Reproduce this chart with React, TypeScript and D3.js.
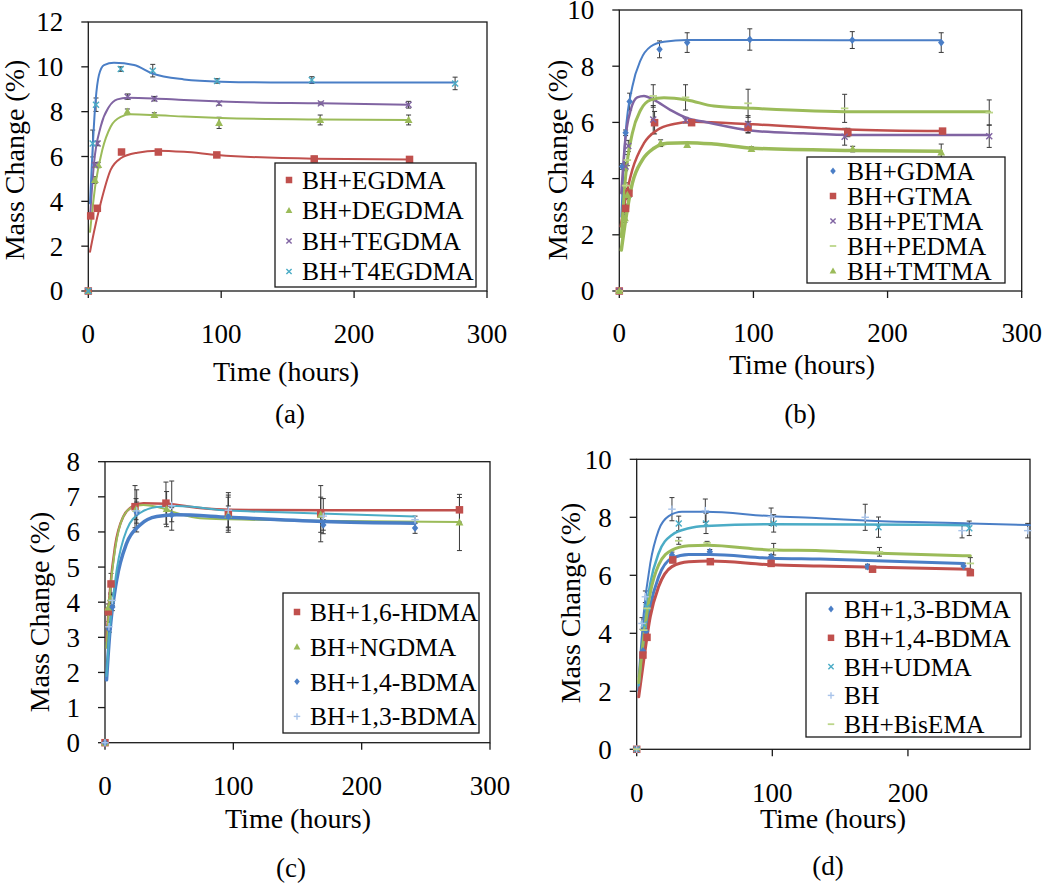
import React from "react";
import * as d3 from "d3";

// ---------- data (time in hours, mass change in %) ----------
// points: [time, value, error]; fit: [time, value]

// (a)
const aEgdmaPts = [[0, 0, 0], [1.8, 3.35, 0.1], [6.8, 3.69, 0.1], [25, 6.2, 0.08], [52.7, 6.2, 0.08], [96.7, 6.07, 0.1], [170, 5.89, 0.12], [241.7, 5.87, 0.12]];
const aEgdmaFit = [[1.3, 1.75], [4.3, 2.64], [9.3, 3.91], [16.8, 5.4], [24.4, 5.92], [36.9, 6.17], [52, 6.26], [72, 6.21], [97, 6.07], [170, 5.9], [241.7, 5.87]];
const aDegdmaPts = [[0, 0, 0], [5, 4.95, 0.15], [7.5, 5.62, 0.12], [29.4, 8.0, 0.12], [49.7, 7.85, 0.1], [98.4, 7.5, 0.25], [174.5, 7.63, 0.22], [241, 7.63, 0.22]];
const aDegdmaFit = [[1.3, 2.64], [5.5, 4.8], [10.5, 6.29], [16.8, 7.33], [24.4, 7.77], [31.9, 7.88], [49.5, 7.85], [72, 7.78], [100, 7.72], [175, 7.65], [241, 7.63]];
const aTegdmaPts = [[0, 0, 0], [5, 5.62, 0.1], [7, 6.58, 0.1], [29.6, 8.67, 0.12], [49.7, 8.58, 0.1], [98.4, 8.37, 0.08], [175, 8.37, 0.06], [241, 8.31, 0.15]];
const aTegdmaFit = [[1.3, 3.3], [4.3, 5.7], [9.3, 7.33], [15.6, 8.22], [21.8, 8.55], [29.4, 8.62], [49.5, 8.59], [72, 8.52], [100, 8.45], [175, 8.37], [241, 8.31]];
const aT4egdmaPts = [[0, 0, 0], [3.3, 6.58, 0.6], [5.8, 8.31, 0.3], [24.4, 9.9, 0.1], [48.5, 9.83, 0.28], [96.9, 9.37, 0.1], [168.2, 9.41, 0.15], [276, 9.26, 0.28]];
const aT4egdmaFit = [[1.3, 3.91], [5.5, 8.5], [8, 9.63], [11.8, 10.08], [19.3, 10.18], [34.4, 10.08], [48.2, 9.7], [72, 9.44], [100, 9.34], [150, 9.3], [276, 9.3]];

// (b)
const bGdmaPts = [[0, 0, 0], [2.2, 4.43, 0.1], [4.7, 5.63, 0.1], [7.7, 6.74, 0.3], [30, 8.6, 0.3], [50.6, 8.84, 0.35], [97.3, 8.95, 0.38], [173.7, 8.93, 0.3], [240, 8.84, 0.35]];
const bGdmaFit = [[1.5, 2.64], [4.7, 5.61], [9.7, 7.27], [15.9, 8.22], [23.4, 8.7], [33.3, 8.87], [50.6, 8.93], [100, 8.93], [240, 8.92]];
const bGtmaPts = [[0, 0, 0], [4.7, 2.94, 0.15], [7.2, 3.48, 0.15], [26.3, 5.99, 0.4], [53.9, 5.99, 0.1], [96, 5.82, 0.2], [170.4, 5.64, 0.15], [241, 5.69, 0.08]];
const bGtmaFit = [[1, 2.3], [3.5, 3.0], [9.7, 4.31], [18.4, 5.26], [28.3, 5.73], [40.7, 5.94], [55.6, 6.02], [99.7, 5.93], [170.4, 5.75], [241, 5.69]];
const bPetmaPts = [[0, 0, 0], [4.7, 4.43, 0.15], [6.7, 5.16, 0.2], [25.3, 6.1, 0.5], [49.4, 6.08, 0.1], [96, 5.94, 0.3], [168, 5.49, 0.3], [275.8, 5.51, 0.4]];
const bPetmaFit = [[1.5, 3.48], [4.7, 5.49], [8.5, 6.44], [13.4, 6.89], [18.4, 6.94], [25.8, 6.8], [38.2, 6.44], [50.6, 6.15], [62.5, 6.03], [99.7, 5.7], [137, 5.61], [174, 5.55], [276, 5.55]];
const bPedmaPts = [[0, 0, 0], [4.7, 3.75, 0.1], [6, 4.66, 0.2], [25.3, 6.94, 0.4], [49.4, 6.89, 0.45], [96, 6.68, 0.5], [168, 6.5, 0.5], [275.8, 6.35, 0.45]];
const bPedmaFit = [[1.5, 1.93], [4.7, 4.07], [9.7, 5.61], [15.9, 6.44], [23.4, 6.8], [33.3, 6.88], [50.6, 6.8], [70.5, 6.58], [99.7, 6.5], [174, 6.38], [276, 6.38]];
const bTmtmaPts = [[0, 0, 0], [4.2, 2.59, 0.15], [6, 3.42, 0.15], [30.8, 5.26, 0.12], [50.6, 5.2, 0.08], [98.5, 5.05, 0.08], [174, 5.05, 0.1], [240, 4.93, 0.3]];
const bTmtmaFit = [[1.5, 1.46], [4.7, 2.53], [9.7, 3.83], [17.1, 4.66], [25.8, 5.08], [35.7, 5.26], [50.6, 5.28], [70.5, 5.23], [99.7, 5.08], [174, 5.0], [240, 4.97]];

// (c)
const cHdmaPts = [[0, 0, 0], [2.6, 3.73, 0.1], [4.7, 4.52, 0.3], [23.4, 6.72, 0.6], [47.5, 6.82, 0.6], [96.1, 6.55, 0.5], [168.1, 6.52, 0.8], [276.2, 6.63, 0.35]];
const cHdmaFit = [[1.2, 2.9], [3.9, 4.35], [7.8, 5.58], [14.3, 6.44], [22, 6.74], [29.9, 6.82], [48, 6.8], [74, 6.68], [96, 6.63], [180, 6.62], [276, 6.62]];
const cNgdmaPts = [[0, 0, 0], [2.6, 3.85, 0.1], [4.4, 4.11, 0.15], [24.2, 6.65, 0.3], [48, 6.65, 0.5], [96, 6.49, 0.5], [168.1, 6.49, 0.5], [276.2, 6.27, 0.8]];
const cNgdmaFit = [[1.2, 2.7], [3.9, 4.26], [7.8, 5.49], [14.3, 6.44], [22, 6.72], [29.9, 6.77], [40.3, 6.72], [55.8, 6.54], [74, 6.39], [96, 6.36], [276, 6.28]];
const cBdma14Pts = [[0, 0, 0], [3.1, 3.24, 0.1], [5.7, 3.86, 0.1], [24.7, 6.55, 0.3], [52, 6.49, 0.2], [96.1, 6.44, 0.3], [170.1, 6.2, 0.15], [241.6, 6.11, 0.15]];
const cBdma14Fit = [[1.2, 1.79], [3.9, 3.21], [9.1, 4.63], [16.9, 5.68], [27.3, 6.2], [40.3, 6.44], [55.8, 6.49], [96, 6.42], [170, 6.3], [241.6, 6.25]];
const cBdma13Pts = [[0, 0, 0], [3.1, 3.3, 0.15], [5.7, 4.05, 0.15], [24.7, 6.6, 0.6], [52, 6.75, 0.7], [96.1, 6.62, 0.5], [170.1, 6.45, 0.5], [241.6, 6.35, 0.1]];
const cBdma13Fit = [[1.2, 1.9], [3.9, 3.3], [9.1, 4.92], [16.9, 6.06], [27.3, 6.54], [40.3, 6.71], [55.8, 6.74], [96, 6.61], [136, 6.56], [241.6, 6.44]];

// (d)
const dBdma13Pts = [[0, 0, 0], [4.6, 3.39, 0.1], [6.9, 4.06, 0.1], [26, 6.7, 0.1], [53.9, 6.81, 0.08], [99.1, 6.64, 0.08], [170.2, 6.3, 0.08], [241, 6.32, 0.1]];
const dBdma13Fit = [[1.5, 2.04], [5.2, 3.42], [10, 4.92], [16.2, 5.95], [26, 6.59], [38.4, 6.72], [53.9, 6.72], [99.1, 6.59], [135.3, 6.56], [241, 6.41]];
const dBdma14Pts = [[0, 0, 0], [4.6, 3.25, 0.1], [7.6, 3.86, 0.1], [26.6, 6.53, 0.1], [54.3, 6.47, 0.08], [99.1, 6.41, 0.08], [173.9, 6.21, 0.08], [246, 6.09, 0.08]];
const dBdma14Fit = [[1.5, 1.81], [5.2, 3.08], [10, 4.57], [16.2, 5.61], [26, 6.3], [38.4, 6.47], [54.3, 6.49], [99.1, 6.36], [135.3, 6.32], [246, 6.21]];
const dUdmaPts = [[0, 0, 0], [5.2, 4.3, 0.15], [7.6, 4.9, 0.15], [31, 7.79, 0.25], [51.1, 7.79, 0.35], [101, 7.79, 0.3], [178.3, 7.66, 0.35], [245.2, 7.62, 0.25]];
const dUdmaFit = [[1.5, 2.2], [5.2, 4.11], [10, 5.72], [16.2, 6.76], [26, 7.39], [38.4, 7.62], [51.1, 7.7], [101, 7.76], [245.2, 7.73]];
const dBhPts = [[0, 0, 0], [3.9, 4.34, 0.2], [6.4, 5.26, 0.2], [26, 8.28, 0.4], [50.6, 8.23, 0.4], [99.1, 8.02, 0.3], [168.5, 8.0, 0.45], [239.9, 7.54, 0.25], [288.3, 7.54, 0.25]];
const dBhFit = [[1.5, 2.5], [5.2, 4.69], [10, 6.41], [16.2, 7.56], [23.6, 8.04], [33.4, 8.19], [50.6, 8.19], [99.1, 8.04], [135.3, 7.97], [172.2, 7.88], [246, 7.79], [290, 7.73]];
const dBisemaPts = [[0, 0, 0], [5.2, 4.11, 0.15], [7.6, 4.86, 0.15], [31, 7.19, 0.12], [51.9, 7.12, 0.05], [101, 6.9, 0.2], [179, 6.81, 0.15], [246, 6.41, 0.2]];
const dBisemaFit = [[1.5, 2.3], [5.2, 3.88], [10, 5.38], [16.2, 6.36], [26, 6.87], [38.4, 7.02], [51.9, 7.04], [101, 6.87], [135.3, 6.85], [179, 6.76], [246, 6.67]];

// ---------- styles ----------
const BLUE = "#4a7ec6";
const RED = "#c0504d";
const GREEN = "#9bbb59";
const PURPLE = "#8064a2";
const AQUA = "#4bacc6";
const LIGHTBLUE = "#a9c4ea";
const LIGHTGREEN = "#bcd68a";
const FONT = '"Liberation Serif", "DejaVu Serif", "Times New Roman", Times, serif';

const mk = (label, pts, fit, marker, markerColor, lineColor, lineWidth) => ({ label, pts, fit, marker, markerColor, lineColor, lineWidth });

const panels = [
  {
    caption: "(a)", left: 88.3, right: 487, top: 22, bottom: 291,
    xMax: 300, xTicks: [0, 100, 200, 300], yMax: 12, yStep: 2,
    ytitle: [24, 160], xtitle: [286, 381], cap: [290, 423], xLabelY: 343,
    legend: { x: 275, y: 163, w: 201, h: 124, row0: 180, step: 30.5, mx: 289, tx: 302 },
    series: [
      mk("BH+EGDMA", aEgdmaPts, aEgdmaFit, "square", RED, RED, 2),
      mk("BH+DEGDMA", aDegdmaPts, aDegdmaFit, "triangle", GREEN, GREEN, 2),
      mk("BH+TEGDMA", aTegdmaPts, aTegdmaFit, "x", PURPLE, PURPLE, 2),
      mk("BH+T4EGDMA", aT4egdmaPts, aT4egdmaFit, "x", AQUA, BLUE, 2),
    ],
  },
  {
    caption: "(b)", left: 619.3, right: 1021.7, top: 10, bottom: 291,
    xMax: 300, xTicks: [0, 100, 200, 300], yMax: 10, yStep: 2,
    ytitle: [567, 160], xtitle: [802, 374], cap: [800, 423], xLabelY: 342,
    legend: { x: 807, y: 157, w: 198, h: 126, row0: 171, step: 25, mx: 833, tx: 847 },
    series: [
      mk("BH+GDMA", bGdmaPts, bGdmaFit, "diamond", BLUE, BLUE, 2),
      mk("BH+GTMA", bGtmaPts, bGtmaFit, "square", RED, RED, 2.5),
      mk("BH+PETMA", bPetmaPts, bPetmaFit, "x", PURPLE, PURPLE, 2.5),
      mk("BH+PEDMA", bPedmaPts, bPedmaFit, "dash", LIGHTGREEN, GREEN, 3),
      mk("BH+TMTMA", bTmtmaPts, bTmtmaFit, "triangle", GREEN, GREEN, 3.5),
    ],
  },
  {
    caption: "(c)", left: 105, right: 490, top: 461.7, bottom: 742.7,
    xMax: 300, xTicks: [0, 100, 200, 300], yMax: 8, yStep: 1,
    ytitle: [49, 612], xtitle: [298, 828], cap: [291, 877], xLabelY: 795,
    legend: { x: 283, y: 593, w: 196, h: 140, row0: 612, step: 34.8, mx: 297, tx: 310 },
    series: [
      mk("BH+1,6-HDMA", cHdmaPts, cHdmaFit, "square", RED, RED, 2.5),
      mk("BH+NGDMA", cNgdmaPts, cNgdmaFit, "triangle", GREEN, GREEN, 2),
      mk("BH+1,4-BDMA", cBdma14Pts, cBdma14Fit, "diamond", BLUE, BLUE, 3.5),
      mk("BH+1,3-BDMA", cBdma13Pts, cBdma13Fit, "plus", LIGHTBLUE, AQUA, 2),
    ],
  },
  {
    caption: "(d)", left: 636.7, right: 1030, top: 459.3, bottom: 749.3,
    xMax: 290, xTicks: [0, 100, 200], yMax: 10, yStep: 2,
    ytitle: [580, 603], xtitle: [833, 828], cap: [828, 875], xLabelY: 802,
    legend: { x: 806, y: 593, w: 215, h: 144, row0: 609, step: 28.8, mx: 831, tx: 844 },
    series: [
      mk("BH+1,3-BDMA", dBdma13Pts, dBdma13Fit, "diamond", BLUE, BLUE, 3),
      mk("BH+1,4-BDMA", dBdma14Pts, dBdma14Fit, "square", RED, RED, 3),
      mk("BH+UDMA", dUdmaPts, dUdmaFit, "x", AQUA, AQUA, 2.5),
      mk("BH", dBhPts, dBhFit, "plus", LIGHTBLUE, BLUE, 2),
      mk("BH+BisEMA", dBisemaPts, dBisemaFit, "dash", LIGHTGREEN, GREEN, 3),
    ],
  },
];

function Marker({ shape, x, y, color, s }) {
  const h = s / 2;
  if (shape === "square") return <rect x={x - h} y={y - h} width={s} height={s} fill={color} />;
  if (shape === "triangle")
    return <path d={`M${x},${y - h * 1.1}L${x + h * 1.05},${y + h * 0.8}L${x - h * 1.05},${y + h * 0.8}Z`} fill={color} />;
  if (shape === "diamond")
    return <path d={`M${x},${y - h * 1.05}L${x + h * 0.85},${y}L${x},${y + h * 1.05}L${x - h * 0.85},${y}Z`} fill={color} />;
  if (shape === "x")
    return (
      <g stroke={color} strokeWidth={1.4}>
        <line x1={x - h * 0.8} y1={y - h * 0.8} x2={x + h * 0.8} y2={y + h * 0.8} />
        <line x1={x - h * 0.8} y1={y + h * 0.8} x2={x + h * 0.8} y2={y - h * 0.8} />
      </g>
    );
  if (shape === "plus")
    return (
      <g stroke={color} strokeWidth={1.4}>
        <line x1={x - h} y1={y} x2={x + h} y2={y} />
        <line x1={x} y1={y - h} x2={x} y2={y + h} />
      </g>
    );
  return <line x1={x - h} y1={y} x2={x + h} y2={y} stroke={color} strokeWidth={1.8} />;
}

function Panel({ p }) {
  const x = d3.scaleLinear().domain([0, p.xMax]).range([p.left, p.right]);
  const y = d3.scaleLinear().domain([0, p.yMax]).range([p.bottom, p.top]);
  const yTicks = d3.range(0, p.yMax + 0.001, p.yStep);
  const line = d3
    .line()
    .x((d) => x(d[0]))
    .y((d) => y(d[1]))
    .curve(d3.curveMonotoneX);
  const lg = p.legend;

  return (
    <g>
      {/* frame */}
      <rect x={p.left} y={p.top} width={p.right - p.left} height={p.bottom - p.top} fill="none" stroke="#1a1a1a" strokeWidth={1.3} />
      {yTicks.map((t) => (
        <g key={"y" + t}>
          <line x1={p.left - 7} x2={p.left} y1={y(t)} y2={y(t)} stroke="#1a1a1a" strokeWidth={1.3} />
          <text x={p.left - 25} y={y(t)} dy="0.35em" textAnchor="end" fontSize={27}>
            {t}
          </text>
        </g>
      ))}
      {p.xTicks.map((t) => (
        <g key={"x" + t}>
          <line x1={x(t)} x2={x(t)} y1={p.bottom} y2={p.bottom + 7} stroke="#1a1a1a" strokeWidth={1.3} />
          <text x={x(t)} y={p.xLabelY} textAnchor="middle" fontSize={27}>
            {t}
          </text>
        </g>
      ))}

      {/* error bars */}
      {p.series.map((s, si) =>
        s.pts
          .filter((d) => d[2] > 0)
          .map((d, i) => (
            <g key={`e${si}-${i}`} stroke="#3a3a3a" strokeWidth={1}>
              <line x1={x(d[0])} x2={x(d[0])} y1={y(d[1] - d[2])} y2={y(d[1] + d[2])} />
              <line x1={x(d[0]) - 2.5} x2={x(d[0]) + 2.5} y1={y(d[1] - d[2])} y2={y(d[1] - d[2])} />
              <line x1={x(d[0]) - 2.5} x2={x(d[0]) + 2.5} y1={y(d[1] + d[2])} y2={y(d[1] + d[2])} />
            </g>
          ))
      )}

      {/* fitted curves */}
      {p.series.map((s, si) => (
        <path key={"l" + si} d={line(s.fit)} fill="none" stroke={s.lineColor} strokeWidth={s.lineWidth} strokeLinejoin="round" strokeLinecap="round" />
      ))}

      {/* measured points */}
      {p.series.map((s, si) =>
        s.pts.map((d, i) => <Marker key={`m${si}-${i}`} shape={s.marker} x={x(d[0])} y={y(d[1])} color={s.markerColor} s={7.5} />)
      )}

      {/* legend */}
      <rect x={lg.x} y={lg.y} width={lg.w} height={lg.h} fill="#fff" stroke="#1a1a1a" strokeWidth={1.3} />
      {p.series.map((s, i) => (
        <g key={"lg" + i}>
          <Marker shape={s.marker} x={lg.mx} y={lg.row0 + i * lg.step} color={s.markerColor} s={6.5} />
          <text x={lg.tx} y={lg.row0 + i * lg.step} dy="0.35em" fontSize={25.5}>
            {s.label}
          </text>
        </g>
      ))}

      {/* titles */}
      <text transform={`translate(${p.ytitle[0]},${p.ytitle[1]}) rotate(-90)`} textAnchor="middle" fontSize={28}>
        Mass Change (%)
      </text>
      <text x={p.xtitle[0]} y={p.xtitle[1]} textAnchor="middle" fontSize={28}>
        Time (hours)
      </text>
      <text x={p.cap[0]} y={p.cap[1]} textAnchor="middle" fontSize={27}>
        {p.caption}
      </text>
    </g>
  );
}

export default function App() {
  return (
    <svg
      width={1050}
      height={885}
      style={{ position: "absolute", left: 0, top: 0, background: "#fff", fontFamily: FONT }}
    >
      <rect width={1050} height={885} fill="#fff" />
      {panels.map((p) => (
        <Panel key={p.caption} p={p} />
      ))}
    </svg>
  );
}
